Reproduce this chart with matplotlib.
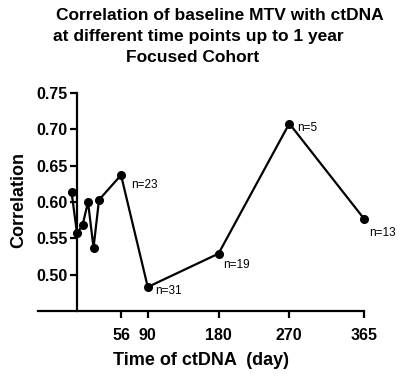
#!/usr/bin/env python3
"""
Correlation of baseline MTV with ctDNA over time (Focused Cohort)
"""

import matplotlib
matplotlib.use('Agg')
import matplotlib.pyplot as plt

# data
days = [-7, 0, 7, 14, 21, 28, 56, 90, 180, 270, 365]
correlation = [0.614, 0.557, 0.568, 0.600, 0.537, 0.603, 0.637, 0.483, 0.529, 0.708, 0.577]

n_days = [56, 90, 180, 270, 365]
n_corr = [0.637, 0.483, 0.529, 0.708, 0.577]
n_labels = ['n=23', 'n=31', 'n=19', 'n=5', 'n=13']
n_offsets = [(7, -7), (5, -3), (3, -8), (6, -3), (4, -10)]  # points

x_ticks = [56, 90, 180, 270, 365]
y_ticks = [0.50, 0.55, 0.60, 0.65, 0.70, 0.75]

plt.rcParams['font.family'] = ['Liberation Sans', 'DejaVu Sans']

fig = plt.figure(figsize=(4.12, 3.79), dpi=100)
ax = fig.add_axes([0.0915, 0.1794, 0.792, 0.5752])

ax.plot(days, correlation, color='black', linewidth=1.6, marker='o',
        markersize=5.5, clip_on=False, zorder=3)

for x, y, lab, off in zip(n_days, n_corr, n_labels, n_offsets):
    ax.annotate(lab, (x, y), xytext=off, textcoords='offset points',
                fontsize=8.5, ha='left', va='center')

ax.set_xlim(-50, 365)
ax.set_ylim(0.45, 0.75)
ax.set_xticks(x_ticks)
ax.set_yticks(y_ticks)
ax.set_yticklabels([f'{v:.2f}' for v in y_ticks])

ax.spines['top'].set_visible(False)
ax.spines['right'].set_visible(False)
ax.spines['left'].set_position(('data', 0))
for s in ('left', 'bottom'):
    ax.spines[s].set_linewidth(1.6)

ax.tick_params(axis='both', direction='out', length=5, width=1.6,
               labelsize=11.5)
ax.tick_params(axis='y', pad=1.5)
ax.tick_params(axis='x', pad=7)
for lbl in ax.get_xticklabels() + ax.get_yticklabels():
    lbl.set_fontweight('bold')

ax.set_xlabel('Time of ctDNA  (day)', fontsize=13, fontweight='bold', labelpad=7)
fig.text(19 / 412, 1 - 200 / 379, 'Correlation', rotation=90, fontsize=13,
         fontweight='bold', ha='center', va='center')

# title, three separately centred lines as in the original
fig.text(220 / 412, 1 - 15 / 379, 'Correlation of baseline MTV with ctDNA',
         fontsize=12.5, fontweight='bold', ha='center', va='center')
fig.text(198 / 412, 1 - 37 / 379, 'at different time points up to 1 year',
         fontsize=12.5, fontweight='bold', ha='center', va='center')
fig.text(193 / 412, 1 - 58 / 379, 'Focused Cohort',
         fontsize=12.5, fontweight='bold', ha='center', va='center')

plt.savefig('out.png', dpi=100)
plt.close()
